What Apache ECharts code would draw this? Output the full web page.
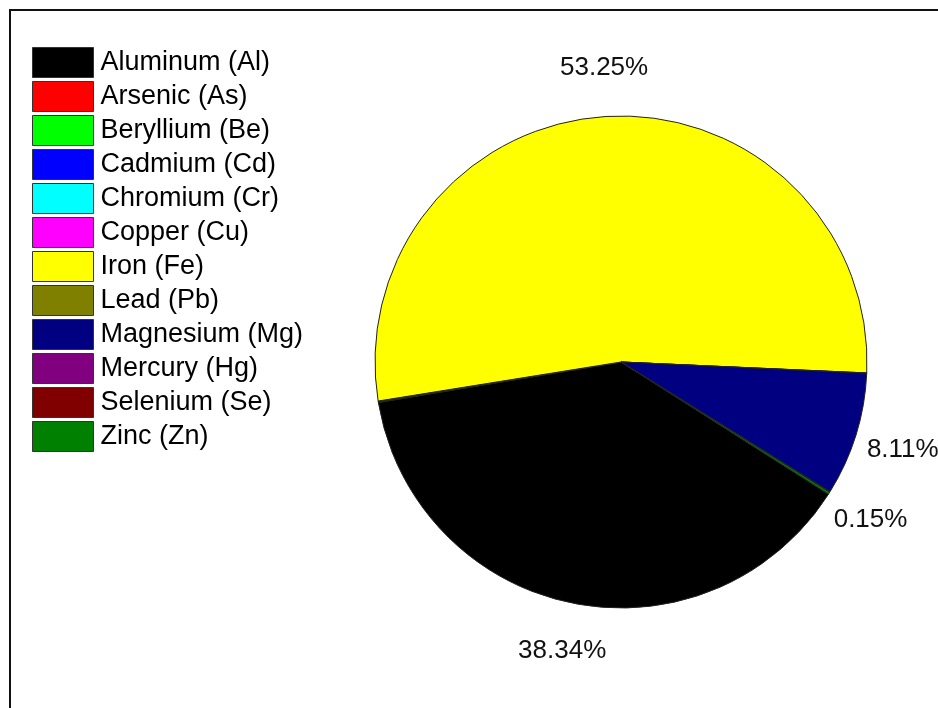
<!DOCTYPE html>
<html>
<head>
<meta charset="utf-8">
<script src="https://cdn.jsdelivr.net/npm/echarts@6/dist/echarts.min.js"></script>
<style>
html,body{margin:0;padding:0;background:#fff;}
#chart{width:938px;height:708px;}
</style>
</head>
<body>
<div id="chart"></div>
<script>
// Data (percent of total)
const elements = ['Aluminum (Al)','Arsenic (As)','Beryllium (Be)','Cadmium (Cd)','Chromium (Cr)','Copper (Cu)','Iron (Fe)','Lead (Pb)','Magnesium (Mg)','Mercury (Hg)','Selenium (Se)','Zinc (Zn)'];
const percents = [38.34, 0.02, 0.02, 0.02, 0.02, 0.02, 53.25, 0.02, 8.11, 0.02, 0.02, 0.15];
const colors = ['#000000','#FF0000','#00FF00','#0000FF','#00FFFF','#FF00FF','#FFFF00','#808000','#000080','#800080','#800000','#008000'];

const font = '"Liberation Sans", Arial, sans-serif';
const mainData = elements.map((n, i) => ({ name: n, value: percents[i], itemStyle: { color: colors[i] } }));
const labelData = elements.map((n, i) => ({ name: n, value: percents[i] }));

const chart = echarts.init(document.getElementById('chart'), null, { renderer: 'canvas' });
chart.setOption({
  animation: false,
  backgroundColor: '#ffffff',
  graphic: [{
    type: 'rect',
    shape: { x: 10, y: 10, width: 1000, height: 800 },
    style: { fill: 'none', stroke: '#111', lineWidth: 2 },
    silent: true,
    z: 100
  }],
  legend: {
    orient: 'vertical',
    left: 32,
    top: 47,
    padding: 0,
    itemWidth: 61,
    itemHeight: 30,
    itemGap: 3,
    icon: 'rect',
    selectedMode: false,
    data: elements,
    itemStyle: { borderColor: '#333', borderWidth: 1 },
    textStyle: { fontFamily: font, fontSize: 27, color: '#000', lineHeight: 30, padding: [0, 0, 0, 2] }
  },
  series: [
    {
      type: 'pie',
      center: [621, 362],
      radius: [0, 246],
      startAngle: -32.5,
      clockwise: true,
      silent: true,
      data: mainData,
      label: { show: false },
      labelLine: { show: false },
      itemStyle: { borderColor: '#222', borderWidth: 1 },
      emphasis: { disabled: true }
    },
    {
      type: 'pie',
      center: [621, 362],
      radius: [272, 312],
      startAngle: -32.5,
      clockwise: true,
      silent: true,
      data: labelData,
      itemStyle: { color: 'rgba(0,0,0,0)', borderWidth: 0 },
      label: {
        show: true,
        position: 'inside',
        fontFamily: font,
        fontSize: 26,
        color: '#111',
        formatter: p => p.value >= 0.1 ? p.value.toFixed(2) + '%' : ''
      },
      labelLine: { show: false },
      emphasis: { disabled: true }
    }
  ]
});
</script>
</body>
</html>
